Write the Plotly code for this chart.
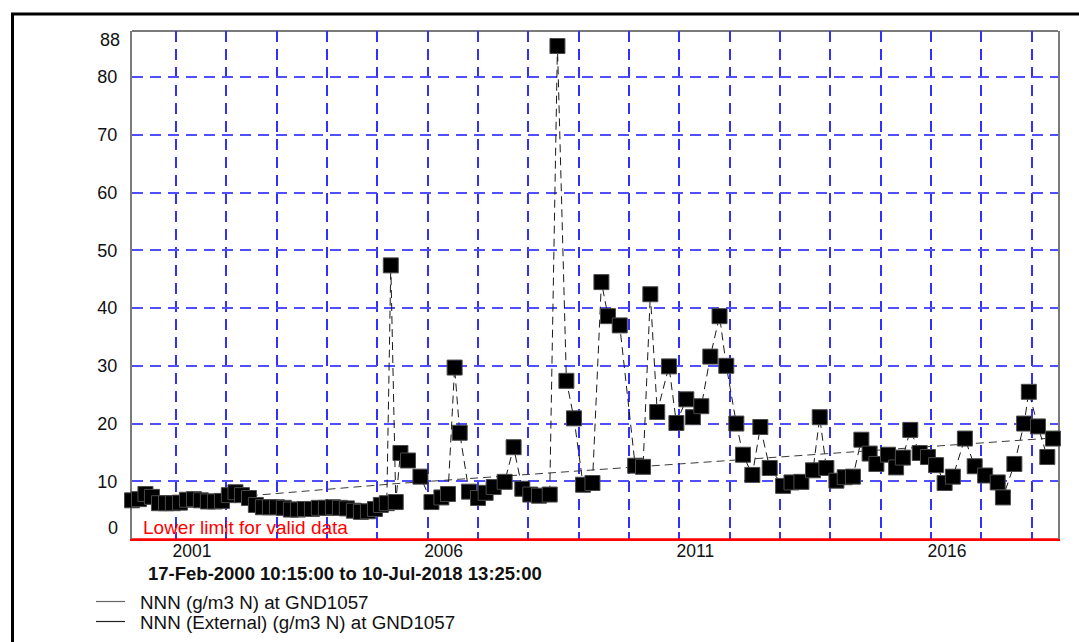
import datetime as dt
import plotly.graph_objects as go

# ---- data -------------------------------------------------------------
sample_dates = [
    '2000-02-17 10:15', '2000-04-08', '2000-05-25', '2000-07-11', '2000-08-31',
    '2000-10-21', '2000-12-10', '2001-01-30', '2001-03-22', '2001-05-12',
    '2001-07-01', '2001-08-21', '2001-10-11', '2001-12-01', '2002-01-20',
    '2002-03-09', '2002-04-25', '2002-06-15', '2002-08-04', '2002-09-24',
    '2002-11-14', '2003-01-04', '2003-02-23', '2003-04-15', '2003-06-05',
    '2003-07-26', '2003-09-15', '2003-11-04', '2003-12-25', '2004-02-14',
    '2004-04-05', '2004-05-25', '2004-07-15', '2004-09-04', '2004-10-25',
    '2004-12-15', '2005-01-27', '2005-03-11',
    '2005-04-09', '2005-05-15', '2005-06-18', '2005-08-12', '2005-11-10',
    '2006-01-29', '2006-04-11', '2006-05-29', '2006-07-16', '2006-08-22',
    '2006-10-28', '2007-01-02', '2007-02-26', '2007-04-25', '2007-07-14',
    '2007-09-17', '2007-11-19', '2008-01-16', '2008-03-19', '2008-06-05',
    '2008-07-31', '2008-10-04', '2008-11-28', '2009-02-02', '2009-04-11',
    '2009-06-15', '2009-08-02', '2009-10-26', '2010-02-15', '2010-04-13',
    '2010-06-05', '2010-07-25', '2010-10-18', '2010-12-11', '2011-02-21',
    '2011-04-10', '2011-06-10', '2011-08-14', '2011-10-20', '2011-12-08',
    '2012-02-19', '2012-04-07', '2012-06-14', '2012-08-11', '2012-10-18',
    '2013-01-23', '2013-03-25', '2013-06-05', '2013-08-28', '2013-10-16',
    '2013-12-03', '2014-02-14', '2014-04-15', '2014-06-14', '2014-08-14',
    '2014-10-13', '2014-12-01', '2015-02-23', '2015-04-23', '2015-06-11',
    '2015-08-04', '2015-10-11', '2015-12-10', '2016-02-07', '2016-04-09',
    '2016-06-08', '2016-09-03', '2016-11-13', '2017-01-28', '2017-04-29',
    '2017-06-06', '2017-08-28', '2017-11-07', '2017-12-11', '2018-02-15',
    '2018-04-24', '2018-06-04',
]
nnn_values = [
    6.7, 6.9, 7.8, 7.3, 6.2,
    6.2, 6.2, 6.3, 6.8, 6.9,
    6.7, 6.5, 6.5, 6.6, 7.6,
    8.1, 7.6, 7.1, 5.9, 5.5,
    5.5, 5.5, 5.4, 5.1, 5.1,
    5.2, 5.2, 5.4, 5.4, 5.5,
    5.4, 5.3, 4.9, 4.7, 4.8,
    5.2, 5.9, 6.2,
    47.4, 6.4, 14.9, 13.6, 10.8,
    6.4, 7.2, 7.8, 29.7, 18.4,
    8.2, 7.1, 8.0, 9.0, 9.9,
    15.9, 8.7, 7.7, 7.5, 7.7,
    85.4, 27.4, 20.9, 9.4, 9.7,
    44.5, 38.6, 37.0, 12.7, 12.5,
    42.4, 22.0, 29.9, 20.1, 24.2,
    21.1, 23.0, 31.6, 38.6, 30.0,
    20.0, 14.6, 11.1, 19.4, 12.3,
    9.2, 9.8, 9.9, 11.9, 21.1,
    12.3, 10.1, 10.7, 10.8, 17.2,
    14.8, 13.0, 14.6, 12.4, 14.1,
    18.9, 14.9, 14.2, 12.8, 9.7,
    10.8, 17.4, 12.6, 11.0, 9.8,
    7.2, 13.0, 20.0, 25.5, 19.5,
    14.2, 17.4,
]

external_dates = ['2002-06-21', '2005-05-22', '2018-06-04']
external_values = [7.5, 9.6, 17.5]

period_start = '2000-02-17 10:15:00'
period_end = '2018-07-10 13:25:00'

grid_years = list(range(2001, 2019))
labelled_years = [2001, 2006, 2011, 2016]
y_ticks = [0, 10, 20, 30, 40, 50, 60, 70, 80, 88]
lower_limit = 0

series_name = 'NNN (g/m3 N) at GND1057'
external_name = 'NNN (External) (g/m3 N) at GND1057'
limit_label = 'Lower limit for valid data'

# ---- styling ----------------------------------------------------------
FONT = 'Liberation Sans, Arial, sans-serif'
GRID_V = '#3030ff'
GRID_H = '#4f4fff'
W, H = 1079, 642
ML, MR, MT, MB = 132, 21, 31, 103
PW, PH = W - ML - MR, H - MT - MB


def px_x(px):
    return (px - ML) / PW


def px_y(py):
    return (H - MB - py) / PH


def fmt(stamp):
    return dt.datetime.strptime(stamp, '%Y-%m-%d %H:%M:%S').strftime('%d-%b-%Y %H:%M:%S')


fig = go.Figure()

fig.add_trace(go.Scatter(
    x=external_dates, y=external_values, mode='lines', name=external_name,
    line=dict(color='#3a3a3a', width=1, dash='8px,5px'), showlegend=False,
))

fig.add_trace(go.Scatter(
    x=[period_start, period_end], y=[lower_limit, lower_limit], mode='lines',
    line=dict(color='#ff0000', width=1.5), showlegend=False, hoverinfo='skip',
))

fig.add_trace(go.Scatter(
    x=sample_dates, y=nnn_values, mode='lines+markers', name=series_name,
    line=dict(color='#1a1a1a', width=1, dash='8px,5px'),
    marker=dict(symbol='square', size=15, color='#000000',
                line=dict(color='#4a4a4a', width=1)),
    cliponaxis=False, showlegend=False,
))

tick_dates = [f'{y}-01-01' for y in grid_years]
tick_text = [str(y) if y in labelled_years else '' for y in grid_years]

fig.update_xaxes(
    type='date', range=[period_start, period_end],
    tickmode='array', tickvals=tick_dates, ticktext=tick_text,
    ticks='inside', ticklen=7, tickwidth=1.5, tickcolor=GRID_V,
    ticklabelshift=16, ticklabelstandoff=-5,
    tickfont=dict(family=FONT, size=17.5, color='#111111'),
    showgrid=True, gridcolor=GRID_V, gridwidth=1.6, griddash='11px,7px',
    showline=True, linecolor='#ff0000', linewidth=2, mirror=False,
    zeroline=False, layer='below traces',
)

fig.update_yaxes(
    range=[y_ticks[0], y_ticks[-1]],
    tickmode='array', tickvals=y_ticks[1:-1],
    ticktext=[str(v) for v in y_ticks[1:-1]],
    ticks='', ticklabelstandoff=9,
    tickfont=dict(family=FONT, size=18, color='#111111'),
    showgrid=True, gridcolor=GRID_H, gridwidth=1.6, griddash='11px,7px',
    showline=True, linecolor='#7a7a7a', linewidth=2, mirror=True,
    zeroline=False, layer='below traces',
)

annotations = [
    # end labels of the value axis sit just inside the plot edges
    dict(x=0, y=0, xref='paper', yref='paper', text=str(y_ticks[0]),
         xanchor='right', yanchor='middle', xshift=-12, yshift=11,
         showarrow=False, font=dict(family=FONT, size=18, color='#111111')),
    dict(x=0, y=1, xref='paper', yref='paper', text=str(y_ticks[-1]),
         xanchor='right', yanchor='middle', xshift=-10, yshift=-9,
         showarrow=False, font=dict(family=FONT, size=18, color='#111111')),
    dict(x=px_x(141), y=px_y(527.5), xref='paper', yref='paper', text=limit_label,
         xanchor='left', yanchor='middle', showarrow=False,
         font=dict(family=FONT, size=19, color='#ff0000')),
    dict(x=px_x(345), y=px_y(573.5), xref='paper', yref='paper',
         text=f'<b>{fmt(period_start)} to {fmt(period_end)}</b>',
         xanchor='center', yanchor='middle', showarrow=False,
         font=dict(family=FONT, size=18.5, color='#111111')),
    dict(x=px_x(138), y=px_y(602), xref='paper', yref='paper', text=series_name,
         xanchor='left', yanchor='middle', showarrow=False,
         font=dict(family=FONT, size=18.8, color='#111111')),
    dict(x=px_x(138), y=px_y(622), xref='paper', yref='paper', text=external_name,
         xanchor='left', yanchor='middle', showarrow=False,
         font=dict(family=FONT, size=18.8, color='#111111')),
]

shapes = [
    # top edge of the plotting area
    dict(type='line', xref='paper', yref='paper', x0=0, x1=1, y0=1, y1=1,
         line=dict(color='#7a7a7a', width=2), layer='below'),
    # outer frame
    dict(type='rect', xref='paper', yref='paper',
         x0=px_x(12.5), x1=px_x(1090), y0=px_y(660), y1=px_y(14),
         line=dict(color='#000000', width=3), layer='below'),
    # legend keys
    dict(type='line', xref='paper', yref='paper', x0=px_x(96), x1=px_x(125),
         y0=px_y(601.5), y1=px_y(601.5), line=dict(color='#666666', width=1.2)),
    dict(type='line', xref='paper', yref='paper', x0=px_x(96), x1=px_x(125),
         y0=px_y(621.5), y1=px_y(621.5), line=dict(color='#222222', width=1.2)),
]

fig.update_layout(
    width=W, height=H, autosize=False,
    margin=dict(l=ML, r=MR, t=MT, b=MB),
    paper_bgcolor='#ffffff', plot_bgcolor='#ffffff',
    font=dict(family=FONT, size=18, color='#111111'),
    showlegend=False, annotations=annotations, shapes=shapes,
)

fig.write_html('out.html')
